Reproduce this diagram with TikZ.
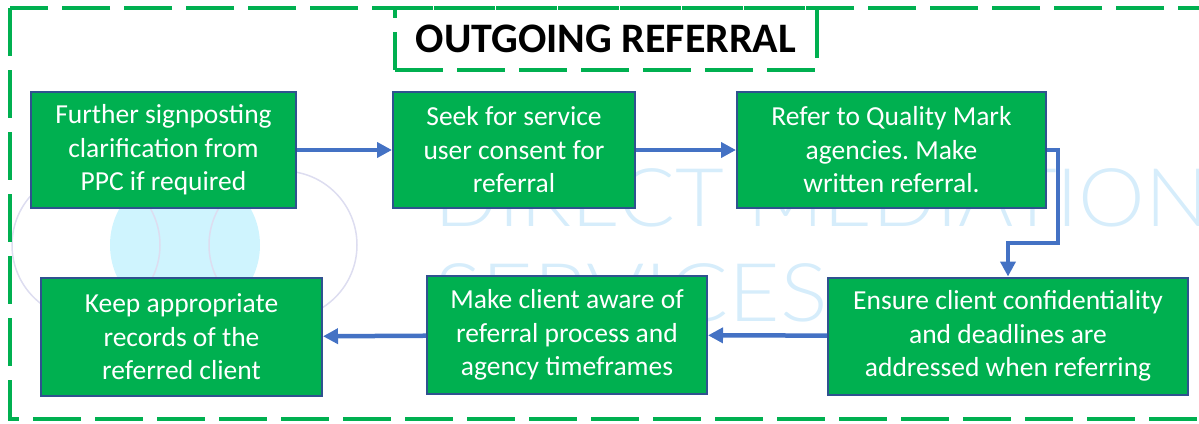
\documentclass[tikz,border=0pt]{standalone}
\usepackage{fontspec}
\setmainfont{Carlito}
\newfontfamily\wmfont{Lato Light}
\usetikzlibrary{arrows.meta}
\definecolor{boxgreen}{HTML}{00B050}
\definecolor{boxedge}{HTML}{2F528F}
\definecolor{flowblue}{HTML}{4472C4}
\definecolor{wmblue}{HTML}{D6EDFB}
\definecolor{wmring}{HTML}{DDDDF0}
\definecolor{wmcyan}{HTML}{CFF4FE}
\frenchspacing
\begin{document}
\begin{tikzpicture}[x=1pt, y=-1pt,
    stepbox/.style={draw=boxedge, line width=2pt, fill=boxgreen, text=white,
      align=center, inner sep=0pt, font=\fontsize{27.5}{33.5}\selectfont},
    flow/.style={draw=flowblue, line width=4.5pt, -{Triangle[length=15pt,width=15pt]}},
    frame/.style={draw=boxgreen, line width=4pt, dash pattern=on 48pt off 14pt},
    watermark/.style={text=wmblue, inner sep=0pt, font=\wmfont\fontsize{81}{81}\selectfont}]
    \useasboundingbox (0,0) rectangle (1199,423);
    \clip (0,0) rectangle (1199,423);

    % 透かし(ロゴと文字)
    \fill[wmcyan] (185,245) circle (75);
    \draw[wmring, line width=1.5pt] (86,245) circle (74);
    \draw[wmring, line width=1.5pt] (283,245) circle (74);
    \node[watermark, anchor=base west] (wmtop) at (434,226) {\scalebox{1.04}[1]{DIRECT MEDIATION}};
    \node[watermark, anchor=base west] (wmbottom) at (434,321) {\scalebox{1.1}[1]{SERVICES}};

    % 外枠とタイトル
    \draw[frame] (10,8) rectangle (1230,419);
    \node[frame, minimum width=422pt, minimum height=62pt,
      font=\bfseries\fontsize{42}{50}\selectfont] (title) at (606,39) {OUTGOING REFERRAL};

    % 上段の手順
    \node[stepbox, minimum width=265pt, minimum height=116pt] (signpost) at (163.5,150)
      {Further signposting\\clarification from\\PPC if required};
    \node[stepbox, minimum width=242pt, minimum height=116pt] (consent) at (514,150)
      {Seek for service\\user consent for\\referral};
    \node[stepbox, minimum width=309pt, minimum height=116pt] (quality) at (891.5,150)
      {Refer to Quality Mark\\agencies. Make\\written referral.};

    % 下段の手順
    \node[stepbox, minimum width=360pt, minimum height=117pt] (confidential) at (1008,336)
      {Ensure client confidentiality\\and deadlines are\\addressed when referring};
    \node[stepbox, minimum width=280pt, minimum height=118pt] (aware) at (567,335)
      {Make client aware of\\referral process and\\agency timeframes};
    \node[stepbox, minimum width=281pt, minimum height=118pt] (records) at (181.5,337)
      {Keep appropriate\\records of the\\referred client};

    % 矢印
    \coordinate (turn) at (1058,243);
    \draw[flow] (signpost) -- (consent);
    \draw[flow] (consent) -- (quality);
    \draw[flow] (quality.east) -| (turn) -| (confidential.north);
    \draw[flow] (confidential) -- (aware);
    \draw[flow] (aware) -- (records);
\end{tikzpicture}
\end{document}
